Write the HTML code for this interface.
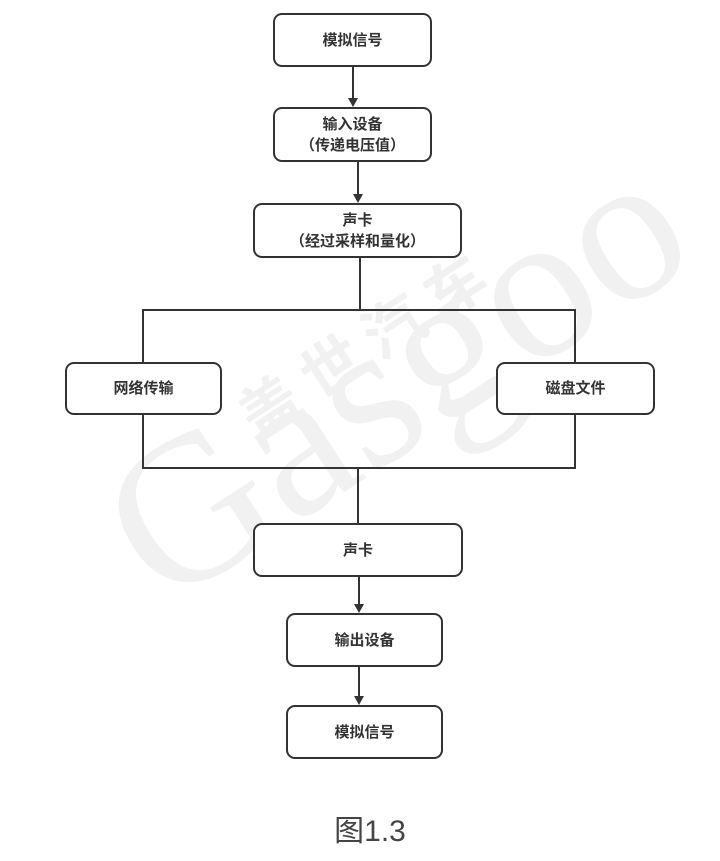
<!DOCTYPE html>
<html><head><meta charset="utf-8"><style>
html,body{margin:0;padding:0;background:#fff;}
body{width:720px;height:861px;position:relative;overflow:hidden;font-family:"Liberation Sans","Noto Sans CJK SC",sans-serif;}
.b{position:absolute;border:2px solid #333;border-radius:9px;box-sizing:border-box;background:#fff;display:flex;flex-direction:column;align-items:center;justify-content:center;font-size:15px;font-weight:bold;color:#333;line-height:21px;text-align:center;}
.l{position:absolute;background:#333;}
.a{position:absolute;width:0;height:0;border-left:5px solid transparent;border-right:5px solid transparent;border-top:9px solid #333;}
.wm{position:absolute;color:#f1f1f1;font-family:"Liberation Serif",serif;white-space:nowrap;}
</style></head><body>
<div class="wm" style="left:60px;top:450px;font-size:210px;transform:rotate(-33deg);transform-origin:left top;">Gasgoo</div>
<div class="wm" style="left:220px;top:300px;font-size:60px;transform:rotate(-33deg);font-family:'Noto Sans CJK SC',sans-serif;font-weight:bold;">盖 世 汽 车</div>

<div class="l" style="left:352px;top:67px;width:2px;height:32px"></div><div class="a" style="left:348px;top:98px"></div>
<div class="l" style="left:357px;top:162px;width:2px;height:33px"></div><div class="a" style="left:353px;top:194px"></div>
<div class="l" style="left:359px;top:258px;width:2px;height:52px"></div>
<div class="l" style="left:142px;top:309px;width:434px;height:2px"></div>
<div class="l" style="left:142px;top:309px;width:2px;height:160px"></div>
<div class="l" style="left:574px;top:309px;width:2px;height:160px"></div>
<div class="l" style="left:142px;top:467px;width:434px;height:2px"></div>
<div class="l" style="left:357px;top:468px;width:2px;height:55px"></div>
<div class="l" style="left:358px;top:577px;width:2px;height:28px"></div><div class="a" style="left:354px;top:604px"></div>
<div class="l" style="left:358px;top:667px;width:2px;height:30px"></div><div class="a" style="left:354px;top:696px"></div>

<div class="b" style="left:273px;top:13px;width:159px;height:54px">模拟信号</div>
<div class="b" style="left:273px;top:107px;width:159px;height:55px">输入设备<br>（传递电压值）</div>
<div class="b" style="left:253px;top:203px;width:209px;height:55px">声卡<br>（经过采样和量化）</div>
<div class="b" style="left:65px;top:362px;width:157px;height:53px">网络传输</div>
<div class="b" style="left:496px;top:362px;width:159px;height:53px">磁盘文件</div>
<div class="b" style="left:253px;top:523px;width:210px;height:54px">声卡</div>
<div class="b" style="left:286px;top:613px;width:157px;height:54px">输出设备</div>
<div class="b" style="left:286px;top:705px;width:157px;height:54px">模拟信号</div>

<div style="position:absolute;left:300px;top:806px;width:140px;text-align:center;font-size:30px;color:#444;font-family:'Liberation Sans','Noto Sans CJK SC',sans-serif;">图1.3</div>
</body></html>
